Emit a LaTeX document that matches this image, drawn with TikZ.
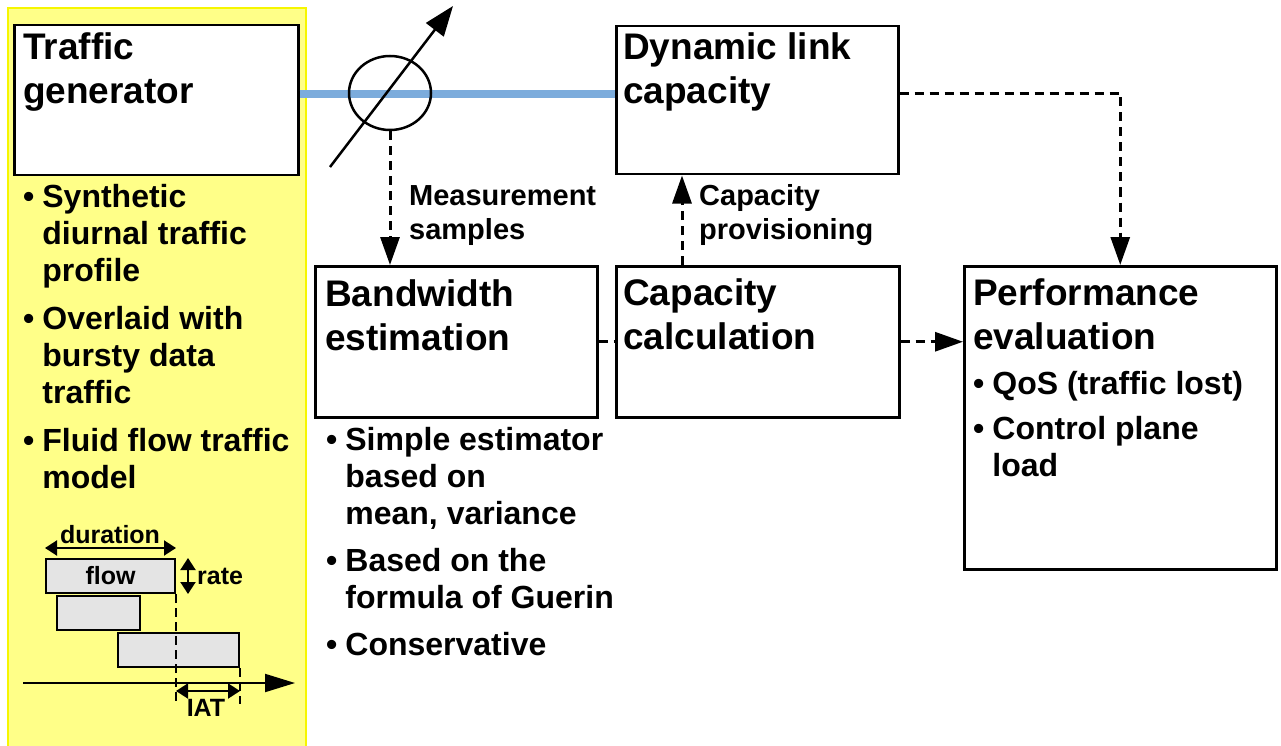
\documentclass[tikz,border=0pt]{standalone}
\usepackage{fontspec}
\setmainfont{Liberation Sans}
\usetikzlibrary{positioning,arrows.meta,shapes.geometric}

\definecolor{panelfill}{RGB}{255,255,136}
\definecolor{panelline}{RGB}{246,246,0}
\definecolor{linkblue}{RGB}{124,172,220}
\definecolor{flowgray}{RGB}{228,228,228}

\newcommand{\stack}[1]{\begin{tabular}{@{}l@{}}#1\end{tabular}}
\newcommand{\blist}[1]{\begin{tabular}{@{}l@{\hspace{8pt}}l@{}}#1\end{tabular}}

\begin{document}
\begin{tikzpicture}[x=1pt, y=-1pt,
	box/.style={draw, line width=2.5pt, anchor=north west, inner sep=0pt},
	ttl/.style={font=\fontsize{37}{44}\selectfont\bfseries, inner sep=0pt},
	txt/.style={font=\fontsize{32}{37}\selectfont\bfseries, inner sep=0pt, anchor=north west},
	lbl/.style={font=\fontsize{29}{34}\selectfont\bfseries, inner sep=0pt, anchor=north west},
	small/.style={font=\fontsize{25}{30}\selectfont\bfseries, inner sep=0pt},
	fbox/.style={draw, fill=flowgray, line width=2pt, anchor=north west, inner sep=0pt, font=\fontsize{25}{30}\selectfont\bfseries},
	dsh/.style={dash pattern=on 9pt off 6pt, line width=3pt},
	tip/.style={-{Triangle[length=28pt, width=19pt]}},
	dbl/.style={line width=2pt, {Triangle[length=12pt, width=15pt]}-{Triangle[length=12pt, width=15pt]}}]
	\useasboundingbox (0,0) rectangle (1281,746);

	% yellow panel of the generator
	\draw[panelline, fill=panelfill, line width=2.5pt] (8,8) rectangle (306,760);

	% blocks
	\node[box, minimum width=284pt, minimum height=150pt, fill=white] (gen) at (13,24) {};
	\node[box, minimum width=282pt, minimum height=148pt] (dyn) at (615,25) {};
	\node[box, minimum width=282pt, minimum height=151pt] (bw) at (314,265) {};
	\node[box, minimum width=283pt, minimum height=151pt] (cap) at (615,265) {};
	\node[box, minimum width=312pt, minimum height=303pt] (perf) at (963,265) {};

	\node[ttl, below right=5pt and 10pt of gen.north west] (gen_title) {\stack{Traffic\\generator}};
	\node[ttl, below right=4pt and 8pt of dyn.north west] (dyn_title) {\stack{Dynamic link\\capacity}};
	\node[ttl, below right=10pt and 11pt of bw.north west] (bw_title) {\stack{Bandwidth\\estimation}};
	\node[ttl, below right=9pt and 8pt of cap.north west] (cap_title) {\stack{Capacity\\calculation}};
	\node[ttl, below right=9pt and 10pt of perf.north west] (perf_title) {\stack{Performance\\evaluation}};

	% bullet lists
	\node[txt] (gen_list) at (23,181) {\blist{•&Synthetic\\&diurnal traffic\\&profile\\[11pt]
		•&Overlaid with\\&bursty data\\&traffic\\[11pt]
		•&Fluid flow traffic\\&model}};
	\node[txt] (bw_list) at (326,424) {\blist{•&Simple estimator\\&based on\\&mean, variance\\[10pt]
		•&Based on the\\&formula of Guerin\\[10pt]
		•&Conservative}};
	\node[txt] (perf_list) at (973,368) {\blist{•&QoS (traffic lost)\\[8pt]
		•&Control plane\\&load}};

	% link and measurement point
	\draw[linkblue, line width=8pt] ([yshift=6pt]gen.east) -- ([yshift=6pt]dyn.west);
	\node[draw, ellipse, line width=2.5pt, minimum width=82pt, minimum height=74pt, inner sep=0pt] (meter) at (390,93) {};
	\coordinate (probe_a) at (330,167);
	\coordinate (probe_b) at (453,6);
	\draw[line width=2.5pt, -{Triangle[length=30pt, width=22pt]}] (probe_a) -- (probe_b);

	% connectors
	\draw[dsh, tip] (meter.south) -- (meter.south |- bw.north);
	\node[lbl] (meas) at (409,181) {\stack{Measurement\\samples}};
	\draw[dsh, tip] ([xshift=67pt]cap.north west) -- ([xshift=67pt]cap.north west |- dyn.south);
	\node[lbl] (prov) at (699,181) {\stack{Capacity\\provisioning}};
	\draw[dsh] (bw.east) -- (cap.west);
	\draw[dsh, tip] (cap.east) -- (cap.east -| perf.west);
	\draw[dsh, tip] ([yshift=7pt]dyn.east) -| (perf.north);

	% fluid flow sketch
	\node[fbox, minimum width=129pt, minimum height=34pt] (fl1) at (45,558) {flow};
	\node[fbox, minimum width=83pt, minimum height=34pt] (fl2) at (56,595) {};
	\node[fbox, minimum width=121pt, minimum height=34pt] (fl3) at (117,632) {};
	\coordinate (ax_a) at (23,683);
	\coordinate (ax_b) at (295,683);
	\draw[line width=2pt, -{Triangle[length=30pt, width=18pt]}] (ax_a) -- (ax_b);
	\coordinate (dur_row) at (0,548);
	\coordinate (iat_row) at (0,691);
	\coordinate (iat_low) at (0,704);
	\draw[dbl] (fl1.north west |- dur_row) -- (fl1.north east |- dur_row);
	\node[small, anchor=base] (dur) at (110,543) {duration};
	\draw[dbl] ([xshift=12pt]fl1.north east) -- ([xshift=12pt]fl1.south east);
	\node[small, anchor=base west] (rate) at (197,584) {rate};
	\draw[dash pattern=on 9pt off 5pt, line width=2.5pt] (fl1.south east) -- (fl1.south east |- iat_low);
	\draw[dash pattern=on 9pt off 5pt, line width=2.5pt] (fl3.south east) -- (fl3.south east |- iat_low);
	\draw[dbl] (fl1.south east |- iat_row) -- (fl3.south east |- iat_row);
	\node[small, anchor=base] (iat) at (206,716) {IAT};
\end{tikzpicture}
\end{document}
